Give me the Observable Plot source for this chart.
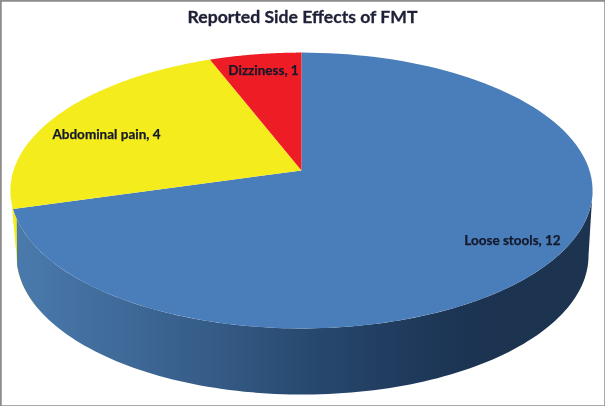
<!DOCTYPE html>
<html>
<head>
<meta charset="utf-8">
<script src="https://cdn.jsdelivr.net/npm/d3@7"></script>
<script src="https://cdn.jsdelivr.net/npm/@observablehq/plot@0.6"></script>
<style>
html,body{margin:0;padding:0;background:#fff}
svg{display:block;filter:blur(0.4px)}
</style>
</head>
<body>
<div id="chart"></div>
<script>
const categories = ["Loose stools", "Abdominal pain", "Dizziness"];
const counts = [12, 4, 1];
const sliceColors = ["#4a7ebb", "#f5ec1e", "#ee1c25"];
const chartTitle = "Reported Side Effects of FMT";

// Perspective projection of the pie disc, in chart pixels
const W = 605, H = 406;
const top3d = {cx: 301, cy: 170, rx: 288, ry: 135, p: 0.145};
const base3d = {cx: 302, cy: 235, rx: 283, ry: 136, p: 0.145};
const project = (g, t) => {
  const d = 1 + g.p * Math.cos(t);
  return [g.cx + g.rx * Math.sin(t) / d, g.cy - g.ry * Math.cos(t) / d];
};
const arcPts = (g, a, b) => d3.range(0, 121).map(i => project(g, a + (b - a) * i / 120));
const rad = deg => deg * Math.PI / 180;

const arcs = d3.pie().sort(null)(counts);
const rightEdge = Math.acos(-top3d.p);
const leftEdge = 2 * Math.PI - rightEdge;
const poly = pts => pts.map(([x, y]) => ({x, y}));

const tops = arcs.flatMap((a, i) =>
  poly([[top3d.cx, top3d.cy], ...arcPts(top3d, a.startAngle, a.endAngle)])
    .map(d => ({...d, name: categories[i], color: sliceColors[i]})));

// The blue wall's seam leans so that a tapering sliver of the yellow wall shows at the far left
const seamTop = rad(250), seamBase = rad(258);
const wallYellow = poly([...arcPts(top3d, rad(240), leftEdge), ...arcPts(base3d, leftEdge, rad(240))]);
const wallBlue = poly([...arcPts(top3d, rightEdge, seamTop), ...arcPts(base3d, seamBase, rightEdge)]);

const labels = categories.map((c, i) => `${c}, ${counts[i]}`);
const labelSpots = [[512, 240], [106, 134], [263, 70]];
const labelData = labels.map((text, i) => ({text, x: labelSpots[i][0], y: labelSpots[i][1]}));

const wallGradient = () => {
  const defs = d3.create("svg:defs");
  const g = defs.append("linearGradient").attr("id", "wall");
  [[0, "#4a7aad"], [0.33, "#365c88"], [0.5, "#284a70"], [0.68, "#1f3a5c"], [0.8, "#1c3351"], [1, "#1d3450"]]
    .forEach(([o, c]) => g.append("stop").attr("offset", o).attr("stop-color", c));
  return defs.node();
};

const font = "Lato, Carlito, sans-serif";
const chart = Plot.plot({
  width: W, height: H,
  margin: 0,
  style: {background: "#fff", fontFamily: font},
  x: {domain: [0, W], range: [0, W], axis: null},
  y: {domain: [0, H], range: [0, H], axis: null},
  color: {type: "identity"},
  marks: [
    wallGradient,
    Plot.line(wallYellow, {x: "x", y: "y", fill: sliceColors[1], stroke: "none"}),
    Plot.line(wallBlue, {x: "x", y: "y", fill: "url(#wall)", stroke: "none"}),
    Plot.line(tops, {x: "x", y: "y", z: "name", fill: "color", stroke: "none"}),
    Plot.text(labelData, {x: "x", y: "y", text: "text", fill: "#14182a", stroke: "#14182a", strokeWidth: 0.25, fontWeight: 700, fontSize: 13.5, fontFamily: font}),
    Plot.text([chartTitle], {x: () => 302, y: () => 17, text: d => d, fill: "#1d2036", stroke: "#1d2036", strokeWidth: 0.3, fontWeight: 700, fontSize: 17.6, fontFamily: font}),
    Plot.frame({stroke: "#8c8c8c", strokeWidth: 2.5})
  ]
});
document.getElementById("chart").append(chart);
</script>
</body>
</html>
